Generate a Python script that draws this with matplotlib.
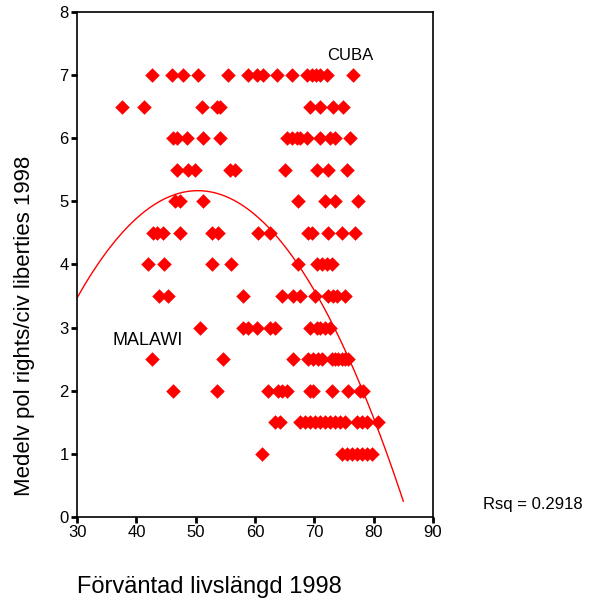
import matplotlib.pyplot as plt
import numpy as np

plt.rcParams['font.family'] = ['Liberation Sans', 'DejaVu Sans']

# points, one list of life expectancies per y level
rows = {
    7.0: [42.6, 46.0, 47.9, 50.4, 55.5, 58.8, 60.4, 61.4, 63.7, 66.3, 68.8, 69.6, 70.3, 71.0, 72.2, 76.5],
    6.5: [37.6, 41.3, 51.1, 53.6, 54.1, 69.3, 71.0, 73.2, 74.9],
    6.0: [46.2, 46.9, 48.5, 51.2, 54.1, 65.4, 66.3, 67.1, 67.6, 68.8, 71.0, 72.7, 73.5, 76.0],
    5.5: [46.9, 48.7, 49.9, 55.8, 56.6, 65.1, 70.5, 72.3, 75.5],
    5.0: [46.5, 47.4, 51.2, 67.3, 71.8, 73.5, 77.4],
    4.5: [42.8, 43.5, 44.5, 47.4, 52.8, 53.8, 60.5, 62.5, 69.0, 69.6, 72.3, 74.7, 76.9],
    4.0: [42.0, 44.7, 52.8, 56.0, 67.3, 70.5, 71.3, 72.2, 73.0],
    3.5: [43.8, 45.3, 58.0, 64.6, 66.4, 67.6, 70.1, 72.3, 73.2, 73.8, 75.2],
    3.0: [50.7, 58.0, 58.8, 60.4, 62.5, 63.4, 69.3, 70.5, 71.0, 71.8, 72.7],
    2.5: [42.6, 54.6, 66.4, 69.0, 69.8, 70.6, 71.3, 73.0, 73.5, 74.0, 74.7, 75.2, 75.7],
    2.0: [46.2, 53.6, 62.2, 63.9, 64.6, 65.4, 69.3, 69.8, 73.0, 75.7, 77.7, 78.2],
    1.5: [63.4, 64.2, 67.6, 68.4, 69.3, 70.1, 71.0, 71.8, 72.7, 73.5, 74.4, 75.2, 77.2, 78.1, 78.9, 80.8],
    1.0: [61.2, 74.7, 75.5, 76.4, 77.2, 78.1, 78.9, 79.7],
}

x = []
y = []
for level, vals in rows.items():
    x += vals
    y += [level] * len(vals)

# quadratic fit
peak_x = 50.35
peak_y = 5.17
curv = -0.0041
fit_range = (30, 85)

fig = plt.figure(figsize=(5.98, 6.08), dpi=100)
ax = fig.add_axes([0.129, 0.150, 0.595, 0.830])

ax.scatter(x, y, marker='D', s=55, color='#ff0000', linewidths=0, zorder=3)

xf = np.linspace(fit_range[0], fit_range[1], 200)
ax.plot(xf, peak_y + curv * (xf - peak_x) ** 2, color='#ff0000', lw=1)

ax.text(76, 7.32, 'CUBA', ha='center', va='center', fontsize=12)
ax.text(36.0, 2.8, 'MALAWI', ha='left', va='center', fontsize=13)

ax.set_xlim(30, 90)
ax.set_ylim(0, 8)
ax.set_xticks(range(30, 91, 10))
ax.set_yticks(range(0, 9))
ax.tick_params(direction='out', length=4, width=2, labelsize=12, pad=2)
for s in ax.spines.values():
    s.set_linewidth(1.2)

fig.text(25 / 598, 1 - 326 / 608, 'Medelv pol rights/civ liberties 1998',
         fontsize=16, rotation=90, ha='center', va='center')
fig.text(0.129, 0.035, 'Förväntad livslängd 1998', fontsize=17, ha='left', va='center')
fig.text(0.808, 0.170, 'Rsq = 0.2918', fontsize=12, ha='left', va='center')

plt.savefig('out.png', dpi=100)
